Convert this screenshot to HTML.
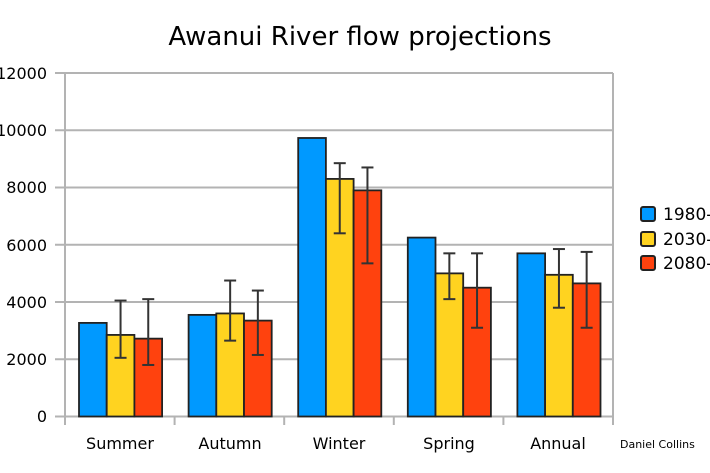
<!DOCTYPE html>
<html><head><meta charset="utf-8"><style>
html,body{margin:0;padding:0;background:#fff;width:710px;height:473px;overflow:hidden}
svg text{font-family:"DejaVu Sans","Liberation Sans",sans-serif;fill:#000}
</style></head><body>
<svg id="s" width="710" height="473" viewBox="0 0 710 473" xmlns="http://www.w3.org/2000/svg">
<text x="360" y="45" font-size="26" text-anchor="middle">Awanui River flow projections</text>
<g stroke="#b3b3b3" stroke-width="2">
<line x1="55" y1="73" x2="613" y2="73"/>
<line x1="55" y1="130.2" x2="613" y2="130.2"/>
<line x1="55" y1="187.5" x2="613" y2="187.5"/>
<line x1="55" y1="244.8" x2="613" y2="244.8"/>
<line x1="55" y1="302" x2="613" y2="302"/>
<line x1="55" y1="359.3" x2="613" y2="359.3"/>
<line x1="55" y1="416.5" x2="613" y2="416.5"/>
<line x1="65" y1="73" x2="65" y2="425"/>
<line x1="613" y1="73" x2="613" y2="425"/>
<line x1="174.6" y1="416" x2="174.6" y2="425"/>
<line x1="284.2" y1="416" x2="284.2" y2="425"/>
<line x1="393.8" y1="416" x2="393.8" y2="425"/>
<line x1="503.4" y1="416" x2="503.4" y2="425"/>
</g>
<g font-size="16" text-anchor="end">
<text x="47" y="79">12000</text>
<text x="47" y="136">10000</text>
<text x="47" y="193">8000</text>
<text x="47" y="251">6000</text>
<text x="47" y="308">4000</text>
<text x="47" y="365">2000</text>
<text x="47" y="422">0</text>
</g>
<g font-size="16" text-anchor="middle">
<text x="120" y="449">Summer</text>
<text x="230" y="449">Autumn</text>
<text x="339" y="449">Winter</text>
<text x="449" y="449">Spring</text>
<text x="558" y="449">Annual</text>
</g>
<text x="620" y="448" font-size="11">Daniel Collins</text>
<g id="bars"></g>
<g stroke="#222" stroke-width="2">
<rect x="641" y="207" width="14" height="14" rx="2" fill="#0099ff"/>
<rect x="641" y="232" width="14" height="14" rx="2" fill="#ffd320"/>
<rect x="641" y="256" width="14" height="14" rx="2" fill="#ff420e"/>
</g>
<g font-size="17">
<text x="663" y="220">1980-</text>
<text x="663" y="245">2030-</text>
<text x="663" y="269">2080-</text>
</g>
</svg>
<script>
var Y=function(v){return 416.5-v*0.028625};
var d=[[3270,2850,2720,2050,4050,1800,4100],[3550,3600,3350,2650,4750,2150,4400],[9730,8300,7900,6400,8850,5350,8700],[6250,5000,4500,4100,5700,3100,5700],[5700,4950,4650,3800,5850,3100,5750]];
var cols=["#0099ff","#ffd320","#ff420e"],h="";
d.forEach(function(r,i){
 var x0=65+i*109.6+14;
 for(var k=0;k<3;k++){var x=x0+k*27.7,y=Y(r[k]);
  h+='<rect x="'+x+'" y="'+y+'" width="27.7" height="'+(416.5-y)+'" fill="'+cols[k]+'" stroke="#222" stroke-width="1.8"/>';}
 for(var k=1;k<3;k++){var cx=x0+k*27.7+13.85,a=Y(r[1+2*k]),b=Y(r[2+2*k]);
  h+='<g stroke="#333" stroke-width="2"><line x1="'+cx+'" y1="'+a+'" x2="'+cx+'" y2="'+b+'"/><line x1="'+(cx-6)+'" y1="'+a+'" x2="'+(cx+6)+'" y2="'+a+'"/><line x1="'+(cx-6)+'" y1="'+b+'" x2="'+(cx+6)+'" y2="'+b+'"/></g>';}
});
document.getElementById("bars").innerHTML=h;
</script>
</body></html>
